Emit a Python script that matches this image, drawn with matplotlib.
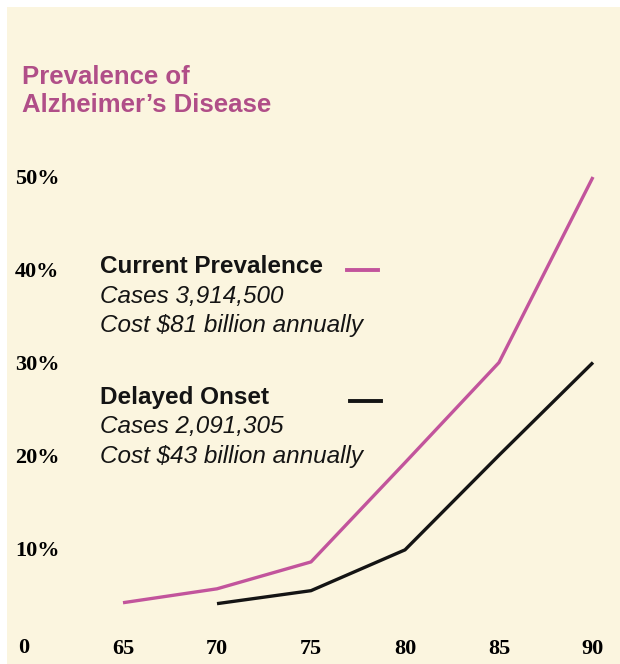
import numpy as np
import matplotlib
matplotlib.use("Agg")
import matplotlib.pyplot as plt

# age groups and prevalence (%) for the two scenarios
ages_current = [65, 70, 75, 80, 85, 90]
prev_current = [4.1, 5.6, 8.5, 19.2, 30, 50]
ages_delayed = [70, 75, 80, 85, 90]
prev_delayed = [4.0, 5.4, 9.8, 20, 30]

x_ticks = [65, 70, 75, 80, 85, 90]
y_ticks = [10, 20, 30, 40, 50]
y_ticklabels = ["10%", "20%", "30%", "40%", "50%"]

title_lines = ["Prevalence of", "Alzheimer\u2019s Disease"]
current_label = ["Current Prevalence", "Cases 3,914,500", "Cost $81 billion annually"]
delayed_label = ["Delayed Onset", "Cases 2,091,305", "Cost $43 billion annually"]

bg = "#FBF5DF"
pink = "#C2549C"
title_col = "#B04E88"
ink = "#141414"

W, H = 620, 664
fig = plt.figure(figsize=(W / 100, H / 100), dpi=100, facecolor="white")

# cream panel, leaving a thin white strip on the left and top
ax = fig.add_axes([7 / W, 0, 1 - 7 / W, 1 - 7 / H])
ax.set_facecolor(bg)
for s in ax.spines.values():
    s.set_visible(False)

# 65 sits at x=123px, 5 years = 94px; 0% at y=640.75px, 10% = 92.75px
px_per_year = 94 / 5
px_per_pct = 9.275
ax.set_xlim(65 + (7 - 123) / px_per_year, 65 + (W - 123) / px_per_year)
ax.set_ylim((640.75 - H) / px_per_pct, (640.75 - 7) / px_per_pct)

ax.plot(ages_current, prev_current, color=pink, lw=2.4, solid_capstyle="butt")
ax.plot(ages_delayed, prev_delayed, color=ink, lw=2.4, solid_capstyle="butt")

tick_font = dict(family="Liberation Serif", weight="bold", size=16)
ax.set_yticks(y_ticks)
ax.set_yticklabels(y_ticklabels, **tick_font, ha="left")
ax.tick_params(axis="y", length=0, pad=-5.8)
ax.set_xticks(x_ticks)
ax.set_xticklabels([str(t) for t in x_ticks], **tick_font)
ax.tick_params(axis="x", length=0, pad=-18)
ax.text(11 / (W - 7), 16 / (H - 7), "0", transform=ax.transAxes,
        ha="left", va="center", **tick_font)

# title
sans = "Liberation Sans"
for i, line in enumerate(title_lines):
    fig.text(22 / W, 1 - (84 + 27.5 * i) / H, line, color=title_col,
             family=sans, weight="bold", size=18.5, va="baseline", ha="left")

# legend block
def legend_block(lines, base, color, x_swatch, y_swatch):
    for i, line in enumerate(lines):
        style = "normal" if i == 0 else "italic"
        weight = "bold" if i == 0 else "normal"
        fig.text(100 / W, 1 - (base + 29.5 * i) / H, line, color=ink,
                 family=sans, style=style, weight=weight, size=17.5,
                 va="baseline", ha="left")
    fig.add_artist(plt.Line2D([x_swatch[0] / W, x_swatch[1] / W],
                              [1 - y_swatch / H, 1 - y_swatch / H],
                              color=color, lw=2.8, transform=fig.transFigure))

legend_block(current_label, 273, pink, (347, 378), 270)
legend_block(delayed_label, 404, ink, (350, 381), 401)

fig.savefig("out.png", dpi=100, facecolor="white")
